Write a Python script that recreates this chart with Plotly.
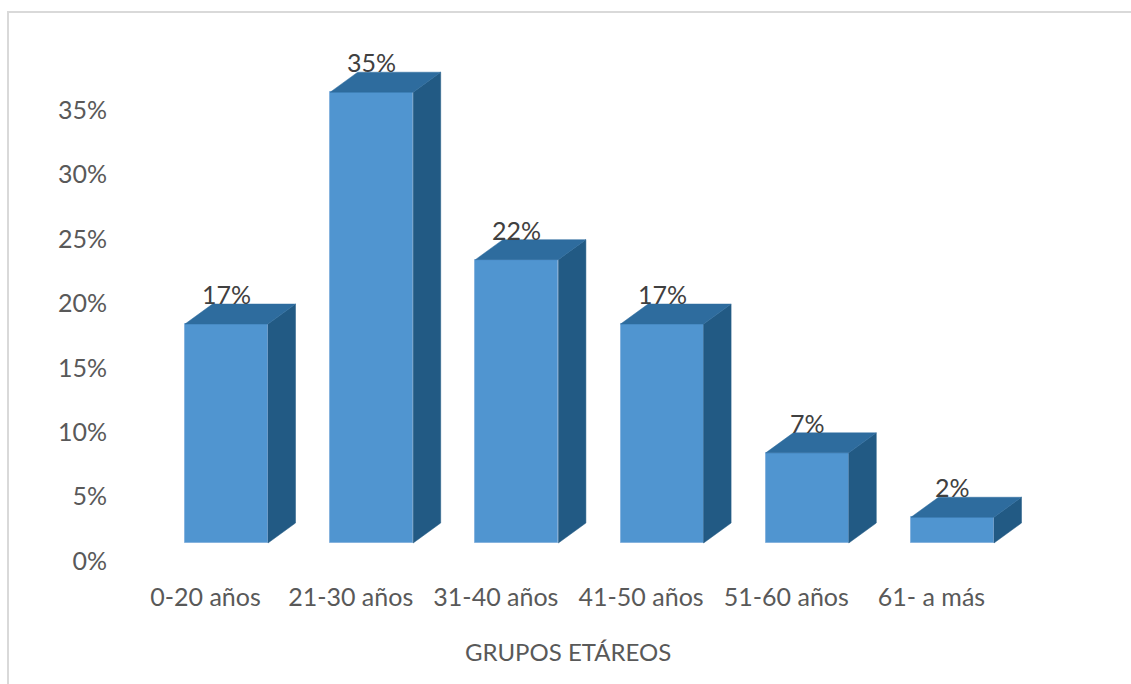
import plotly.graph_objects as go

# Age groups and their share of respondents
categories = ["0-20 años", "21-30 años", "31-40 años", "41-50 años", "51-60 años", "61- a más"]
values = [0.17, 0.35, 0.22, 0.17, 0.07, 0.02]
y_ticks = [0.00, 0.05, 0.10, 0.15, 0.20, 0.25, 0.30, 0.35]
x_title = "GRUPOS ETÁREOS"

# Figure / plot-area geometry in pixels
FIG_W, FIG_H = 1131, 684
LEFT, RIGHT, TOP, BOTTOM = 110, 1120, 40, 580
STEP_PX = 145.2          # distance between category centres
FIRST_CENTER_PX = 226.5  # centre of the first column front
FRONT_BASE_PX = 543      # baseline of the column fronts
WALL_BASE_PX = 561       # baseline used by the value-axis labels
PX_PER_UNIT_Y = 1288.0   # pixels per 100 %
BAR_W_PX = 83
DEPTH_X_PX, DEPTH_Y_PX = 27.5, 20.0
LABEL_SHIFT_PX = 21      # category labels sit on the front edge of the floor

FRONT = "#5095d0"
TOP_FACE = "#2e6c9e"
SIDE_FACE = "#225a84"
EDGE = "#86b3de"
AXIS_TXT = "#595959"
LABEL_TXT = "#404040"
FONT = "Lato"

plot_w = RIGHT - LEFT
plot_h = BOTTOM - TOP

x0 = -(FIRST_CENTER_PX - LEFT) / STEP_PX
x_range = [x0, x0 + plot_w / STEP_PX]
x2_shift = LABEL_SHIFT_PX / STEP_PX
x2_range = [x_range[0] + x2_shift, x_range[1] + x2_shift]

y0 = -(BOTTOM - FRONT_BASE_PX) / PX_PER_UNIT_Y
y_range = [y0, y0 + plot_h / PX_PER_UNIT_Y]
y20 = -(BOTTOM - WALL_BASE_PX) / PX_PER_UNIT_Y
y2_range = [y20, y20 + plot_h / PX_PER_UNIT_Y]

bw = BAR_W_PX / STEP_PX
dx = DEPTH_X_PX / STEP_PX
dy = DEPTH_Y_PX / PX_PER_UNIT_Y
xs = list(range(len(categories)))

# Build top and right-side faces of each column as polygons
top_x, top_y, side_x, side_y = [], [], [], []
for i, v in zip(xs, values):
    l, r = i - bw / 2, i + bw / 2
    top_x += [l, l + dx, r + dx, r, l, None]
    top_y += [v, v + dy, v + dy, v, v, None]
    side_x += [r, r + dx, r + dx, r, r, None]
    side_y += [0, dy, v + dy, v, 0, None]

fig = go.Figure()

fig.add_trace(go.Scatter(
    x=side_x, y=side_y, mode="lines", fill="toself",
    fillcolor=SIDE_FACE, line=dict(color=SIDE_FACE, width=0.5),
    hoverinfo="skip", showlegend=False,
))
fig.add_trace(go.Scatter(
    x=top_x, y=top_y, mode="lines", fill="toself",
    fillcolor=TOP_FACE, line=dict(color=TOP_FACE, width=0.5),
    hoverinfo="skip", showlegend=False,
))
fig.add_trace(go.Bar(
    x=xs, y=values, width=bw,
    marker=dict(color=FRONT, line=dict(color=EDGE, width=1)),
    hoverinfo="skip", showlegend=False,
))

# Invisible trace carrying the category / value label axes
fig.add_trace(go.Scatter(
    x=xs, y=values, xaxis="x2", yaxis="y2", mode="markers",
    marker=dict(opacity=0), hoverinfo="skip", showlegend=False,
))

for i, v in zip(xs, values):
    fig.add_annotation(
        x=i, y=v, xref="x", yref="y", text=f"{round(v * 100)}%",
        showarrow=False, yshift=30, xanchor="center", yanchor="middle",
        font=dict(family=FONT, size=25, color=LABEL_TXT),
    )

fig.add_annotation(
    x=(567.5 - LEFT) / plot_w, y=(BOTTOM - 651) / plot_h,
    xref="paper", yref="paper", text=x_title, showarrow=False,
    xanchor="center", yanchor="middle",
    font=dict(family=FONT, size=24, color=AXIS_TXT),
)

# Chart-area frame
fig.add_shape(
    type="rect", xref="paper", yref="paper",
    x0=(8 - LEFT) / plot_w, x1=1.2,
    y0=-0.5, y1=(BOTTOM - 12) / plot_h,
    line=dict(color="#d9d9d9", width=2), layer="below",
)

fig.update_layout(
    width=FIG_W, height=FIG_H,
    margin=dict(l=LEFT, r=FIG_W - RIGHT, t=TOP, b=FIG_H - BOTTOM),
    paper_bgcolor="white", plot_bgcolor="rgba(0,0,0,0)",
    font=dict(family=FONT, color=AXIS_TXT),
    bargap=0,
    xaxis=dict(range=x_range, visible=False, fixedrange=True),
    yaxis=dict(range=y_range, visible=False, fixedrange=True),
    xaxis2=dict(
        range=x2_range, overlaying="x", anchor="y2", side="bottom",
        tickmode="array", tickvals=xs, ticktext=categories,
        showgrid=False, zeroline=False, showline=False, ticks="",
        tickfont=dict(family=FONT, size=25, color=AXIS_TXT),
        fixedrange=True,
    ),
    yaxis2=dict(
        range=y2_range, overlaying="y", anchor="x2", side="left",
        tickmode="array", tickvals=y_ticks, tickformat=".0%",
        showgrid=False, zeroline=False, showline=False, ticks="",
        ticklabelstandoff=2,
        tickfont=dict(family=FONT, size=25, color=AXIS_TXT),
        fixedrange=True,
    ),
)

fig.write_html("out.html", config={"displayModeBar": False})
